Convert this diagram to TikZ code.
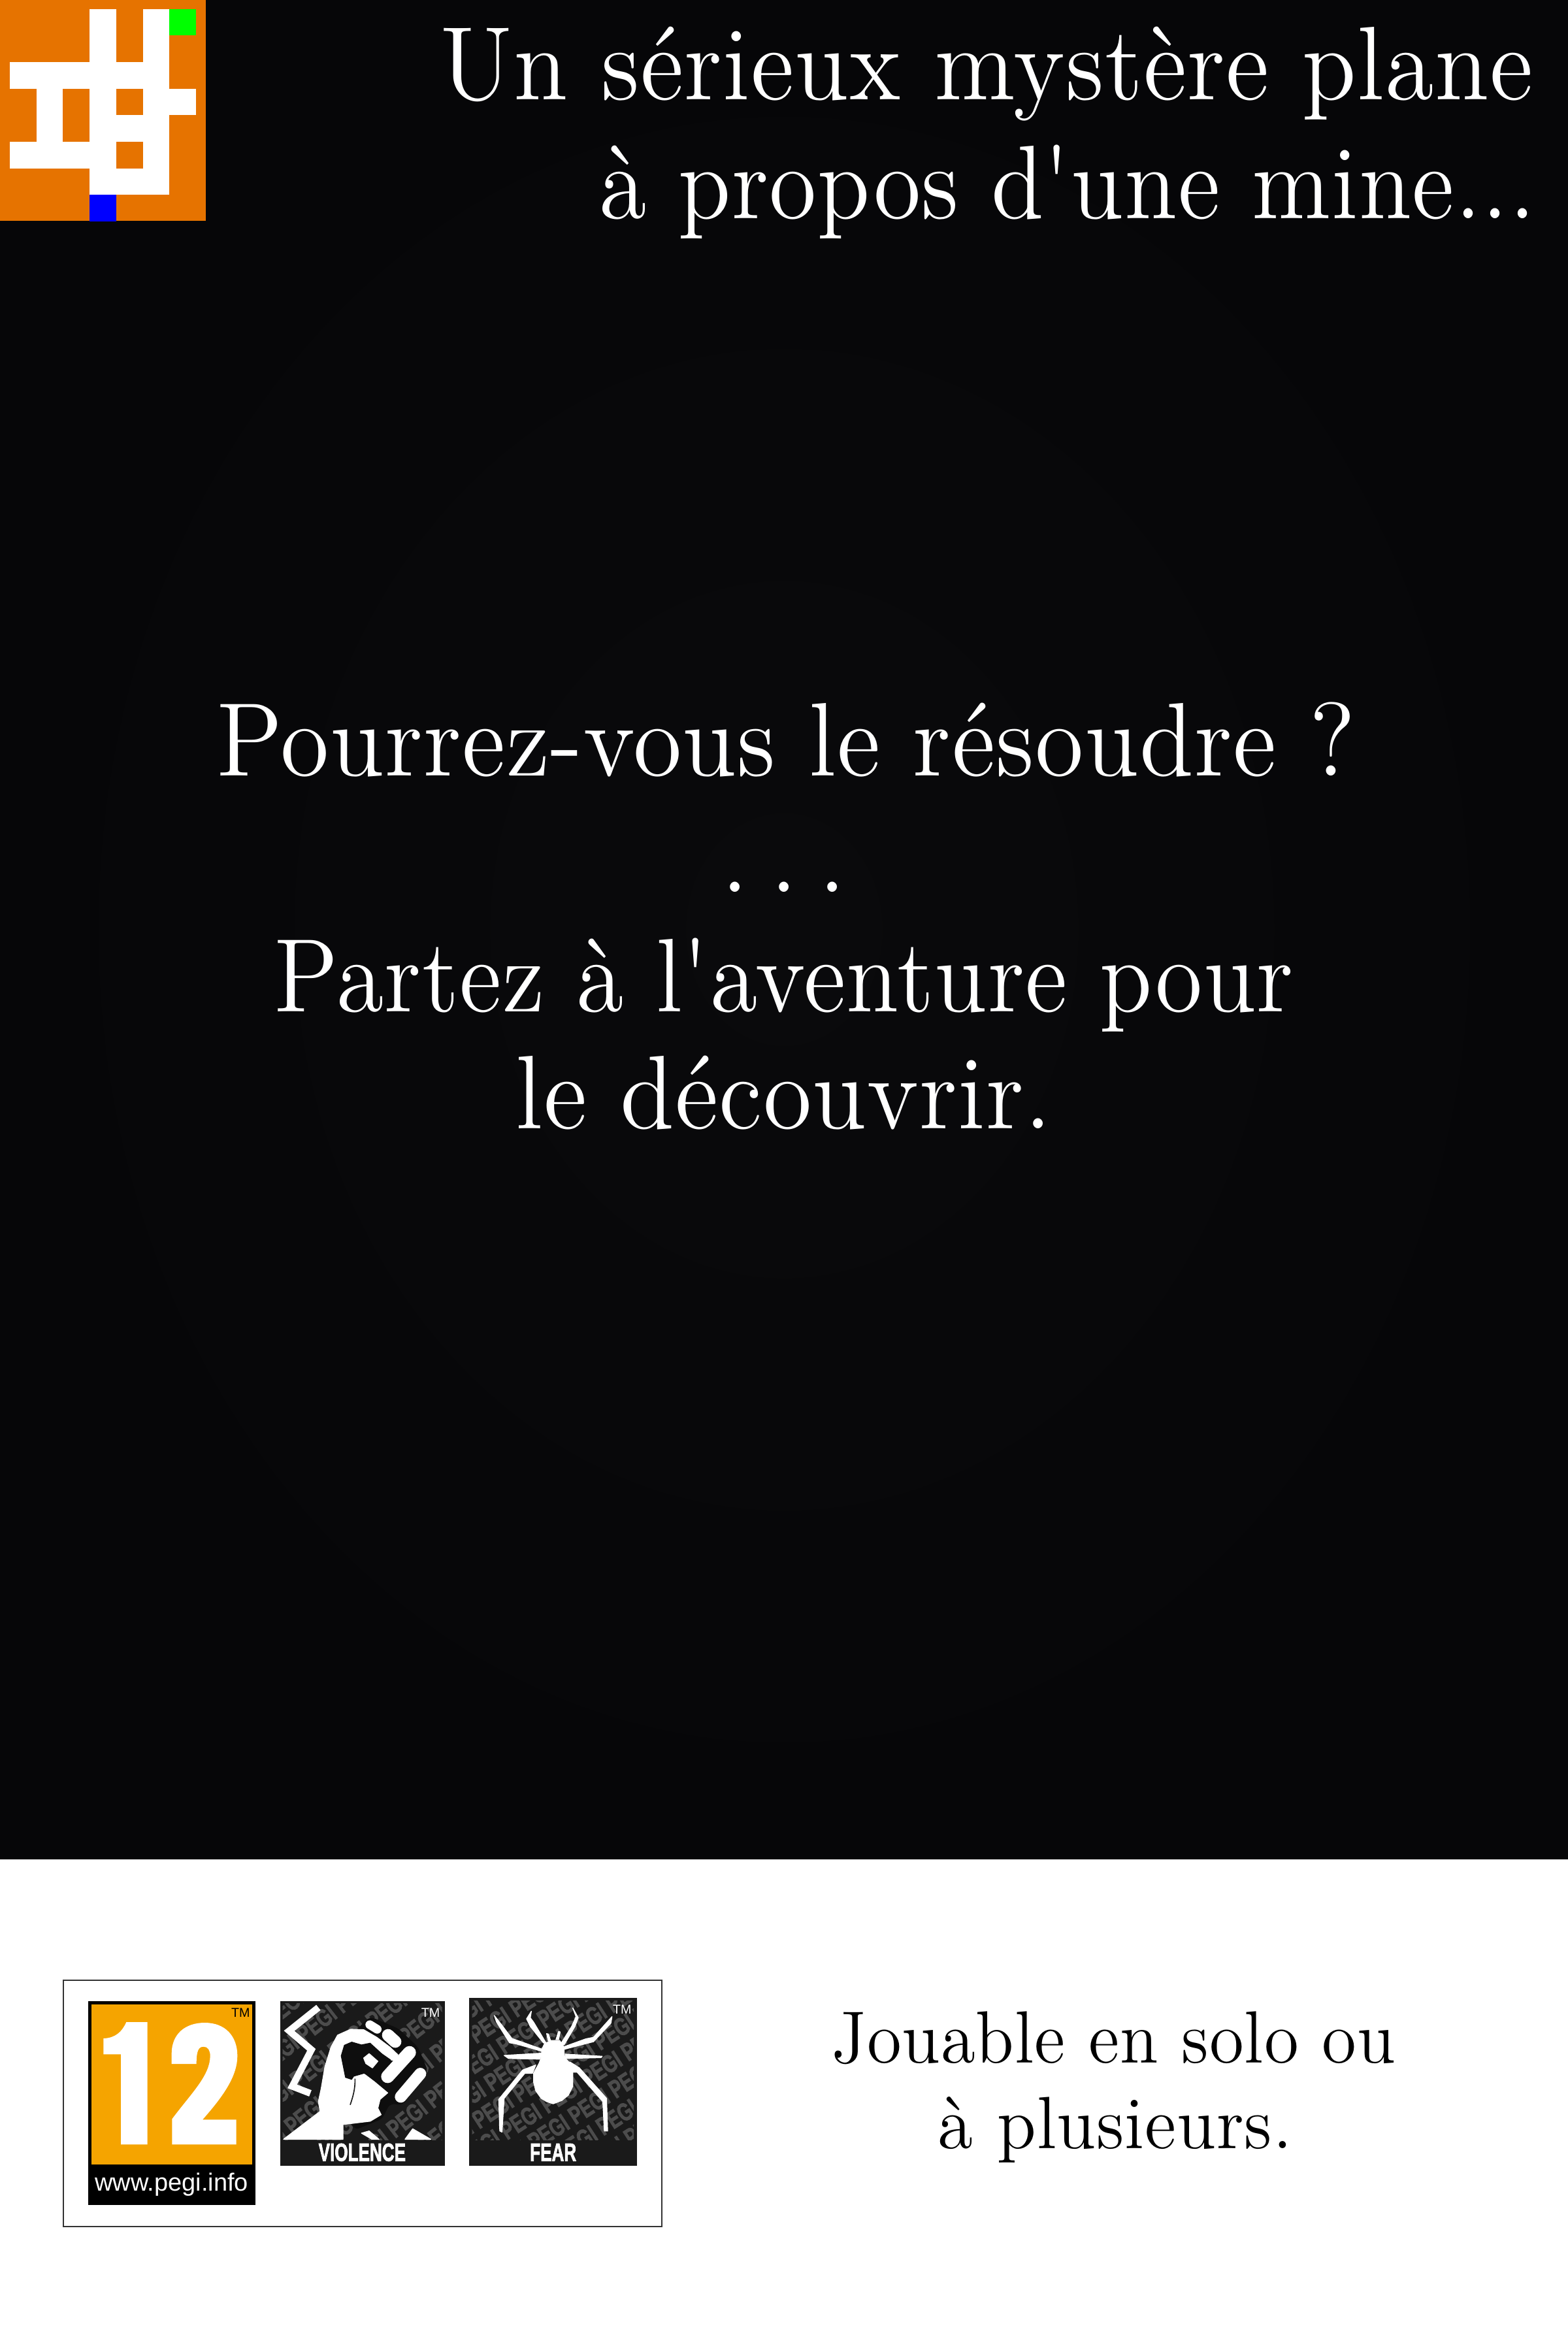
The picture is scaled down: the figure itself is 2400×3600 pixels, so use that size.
\documentclass[tikz,border=0pt]{standalone}
\usepackage{fontspec}
\setmainfont{lmroman12-regular.otf}[Ligatures=Common,LetterSpace=0.8,FakeStretch=0.95]
\newfontfamily\pegifont{Liberation Sans}
\newfontfamily\pegiheavy{Liberation Sans}[BoldFeatures={FakeBold=2.5}]
\usetikzlibrary{calc}
\definecolor{bgdark}{HTML}{060608}
\definecolor{bgcenter}{HTML}{0A0A0C}
\definecolor{mineorange}{HTML}{E67300}
\definecolor{pegiorange}{HTML}{F5A400}
\definecolor{pegidark}{HTML}{1A1A1A}
\definecolor{pegiblack}{HTML}{0E0E0E}
\definecolor{wmgrey}{HTML}{4C4C4C}
\tikzset{
  bigtext/.style={text=white,anchor=base,inner sep=0pt,font=\fontsize{48}{48}\selectfont},
  bigright/.style={bigtext,anchor=base east},
  smalltext/.style={text=black,anchor=base,inner sep=0pt,font=\fontsize{34}{34}\selectfont},
  tmark/.style={inner sep=0pt,font=\pegifont\fontsize{5.9}{5.9}\selectfont},
  caption/.style={text=white,inner sep=0pt,font=\pegiheavy\bfseries\fontsize{11.5}{11.5}\selectfont},
  wm/.style={text=wmgrey,inner sep=0pt,font=\pegiheavy\bfseries\fontsize{11.5}{11.5}\selectfont},
  zoomthree/.style={x=0.1pt,y=-0.1pt},
  pict/.style={fill=white,draw=white,line width=.4pt,line join=round},
}
\newcommand{\minecell}[3]{\fill[#3] ({15+40.7*#1},{13.5+40.7*#2}) rectangle ({15+40.7*#1+40.7},{13.5+40.7*#2+40.7});}
\newcommand{\wmrow}{\scalebox{.72}[1]{PEGI PEGI PEGI PEGI PEGI PEGI PEGI PEGI PEGI PEGI}}
\begin{document}
\begin{tikzpicture}[x=0.3pt,y=-0.3pt]
\useasboundingbox (0,0) rectangle (2400,3600);
\fill[white] (0,0) rectangle (2400,3600);
\shade[inner color=bgcenter,outer color=bgdark] (0,0) rectangle (2400,2845);
% mine logo
\fill[mineorange] (0,0) rectangle (315,338);
\foreach \c/\r in {3/0,3/1,3/2,3/3,3/4,3/5,3/6,5/0,5/1,5/2,5/3,5/4,5/5,5/6,0/2,1/2,2/2,4/2,1/3,1/4,6/3,4/4,0/5,1/5,2/5,4/6}{\minecell{\c}{\r}{white}}
\minecell{6}{0}{green}
\minecell{3}{7}{blue}
% texts
\node[bigright] (t1) at (2347,152) {Un sérieux mystère plane};
\node[bigright] (t2) at (2351,334) {\scalebox{.972}[1]{à propos d\textquotesingle une mine...}};
\node[bigtext] (t3) at (1203,1187) {Pourrez-vous le résoudre ?};
\node[bigtext] (t4) at (1200,1365) {.\hspace{10pt}.\hspace{10pt}.};
\node[bigtext] (t5) at (1200,1548) {\scalebox{.971}[1]{Partez à l\textquotesingle aventure pour}};
\node[bigtext] (t6) at (1200,1727) {le découvrir.};
\node[smalltext] (t7) at (1704,3157) {Jouable en solo ou};
\node[smalltext] (t8) at (1707,3288) {\scalebox{1.02}[1]{à plusieurs.}};
% frame
\draw[draw=black!80,line width=0.6pt] (97,3031) rectangle (1013,3408);
% PEGI 12
\begin{scope}[shift={(80,3010)},zoomthree]
\fill[black] (165,160) rectangle (932,1094);
\fill[pegiorange] (180,175) rectangle (917,908);
\fill[white] (235,330) .. controls (290,328) and (320,300) .. (340,255) -- (437,255) -- (437,817) -- (315,817) -- (315,403) -- (235,403) -- cycle;
\fill[white] (548,447) -- (548,400) .. controls (548,310) and (610,258) .. (700,258) .. controls (795,258) and (850,320) .. (850,410) .. controls (850,500) and (790,590) .. (690,703) -- (845,703) -- (845,817) -- (550,817) -- (550,700) .. controls (640,580) and (725,500) .. (725,410) .. controls (725,385) and (715,368) .. (695,368) .. controls (672,368) and (662,385) .. (662,447) -- cycle;
\node[tmark,text=black] (tm12) at (865,213) {TM};
\node[inner sep=0pt,text=white,font=\pegifont\fontsize{11.4}{11.4}\selectfont] (url) at (548,1000) {www.pegi.info};
\end{scope}
% Violence
\begin{scope}[shift={(410,3030)},zoomthree]
\fill[pegidark] (58,100) rectangle (812,855);
\begin{scope}
\clip (68,110) rectangle (800,735);
\foreach \k in {-4,...,4}{
  \node[wm,rotate=38] (vw\k) at ({430+\k*(0.616*150+0.788*70)},{420+\k*(0.788*150-0.616*70)}) {\wmrow};
}
\end{scope}
\fill[pegiblack,rounded corners=2pt] (420,215) -- (470,170) -- (600,225) -- (690,310) -- (735,420) -- (620,575) -- (560,570) -- (525,640) -- (400,690) -- (300,500) -- cycle;
\begin{scope}
\clip (72,110) rectangle (800,733);
\draw[white,line width=3.1pt,miter limit=10] (232,128) -- (98,235) -- (200,322) -- (112,490) -- (195,522);
\end{scope}
\fill[pict] (72,733) -- (240,605) -- (232,560) -- (245,500) -- (262,400) -- (290,310) -- (320,255) -- (380,228) -- (440,230) -- (500,265) -- (560,310) -- (597,345) -- (590,375) -- (565,368) -- (525,340) -- (470,290) -- (430,298) -- (385,285) -- (350,300) -- (335,350) -- (345,395) -- (355,450) -- (385,460) -- (395,445) -- (440,432) -- (490,470) -- (550,520) -- (515,550) -- (505,590) -- (520,620) -- (470,650) -- (345,665) -- (345,733) -- cycle;
\fill[pegiblack] (335,350) -- (350,300) -- (385,285) -- (430,298) -- (470,290) -- (525,340) -- (565,368) -- (530,420) -- (500,440) -- (440,432) -- (395,445) -- (385,460) -- (355,450) -- cycle;
\draw[pegidark,line width=0.5pt] (400,455) .. controls (402,500) and (390,540) .. (378,575);
\fill[pict] (440,360) -- (465,340) -- (505,375) -- (480,405) -- (450,385) -- cycle;
\draw[white,line width=4pt,line cap=round] (468,207) -- (502,228);
\draw[white,line width=5.6pt,line cap=round] (552,255) -- (585,285);
\draw[white,line width=6pt,line cap=round] (550,445) -- (650,335);
\draw[white,line width=5.4pt,line cap=round] (610,538) -- (700,432);
\fill[pict] (630,733) -- (665,685) -- (748,733) -- cycle;
\fill[pict] (430,705) -- (465,695) -- (510,733) -- (478,733) -- cycle;
\node[tmark,text=white] (tmv) at (747,152) {TM};
\node[caption] (vl) at (433,793) {\scalebox{.68}[1]{VIOLENCE}};
\end{scope}
% Fear
\begin{scope}[shift={(700,3030)},zoomthree]
\fill[pegidark] (55,85) rectangle (825,855);
\begin{scope}
\clip (68,98) rectangle (810,735);
\foreach \k in {-5,...,5}{
  \node[wm,rotate=33] (fw\k) at ({440+\k*(0.545*112+0.839*80)},{420+\k*(0.839*112-0.545*80)}) {\wmrow};
}
\end{scope}
\fill[pict] (430,280) -- (470,280) -- (490,310) -- (490,345) -- (500,365) -- (530,400) -- (530,490) -- (510,530) -- (480,555) -- (440,570) -- (410,560) -- (385,545) -- (360,510) -- (350,470) -- (350,430) -- (375,385) -- (385,360) -- (388,320) -- (400,295) -- cycle;
\fill[pict] (170,165) -- (205,210) -- (250,270) -- (385,318) -- (385,328) -- (270,295) -- (240,290) -- (180,195) -- cycle;
\fill[pict] (340,145) -- (318,180) -- (335,215) -- (395,290) -- (410,295) -- (350,195) -- (335,175) -- cycle;
\fill[pict] (530,130) -- (555,175) -- (540,215) -- (490,300) -- (475,295) -- (525,215) -- (545,170) -- cycle;
\fill[pict] (710,170) -- (705,200) -- (625,285) -- (490,320) -- (490,308) -- (590,272) -- (625,265) -- cycle;
\fill[pict] (410,248) -- (418,250) -- (428,280) -- (418,282) -- cycle;
\fill[pict] (465,238) -- (472,240) -- (465,275) -- (453,275) -- cycle;
\fill[pict] (215,348) -- (385,338) -- (380,365) -- (235,362) -- cycle;
\fill[pict] (495,342) -- (665,352) -- (660,358) -- (500,362) -- cycle;
\fill[pict] (360,392) -- (345,430) -- (310,430) -- (215,545) -- (205,700) -- (195,695) -- (190,550) -- (300,415) -- cycle;
\fill[pict] (500,375) -- (530,425) -- (550,425) -- (668,560) -- (675,695) -- (690,695) -- (685,545) -- (560,405) -- (520,380) -- cycle;
\node[tmark,text=white] (tmf) at (757,138) {TM};
\node[caption] (fl) at (440,793) {\scalebox{.68}[1]{FEAR}};
\end{scope}
\end{tikzpicture}
\end{document}
